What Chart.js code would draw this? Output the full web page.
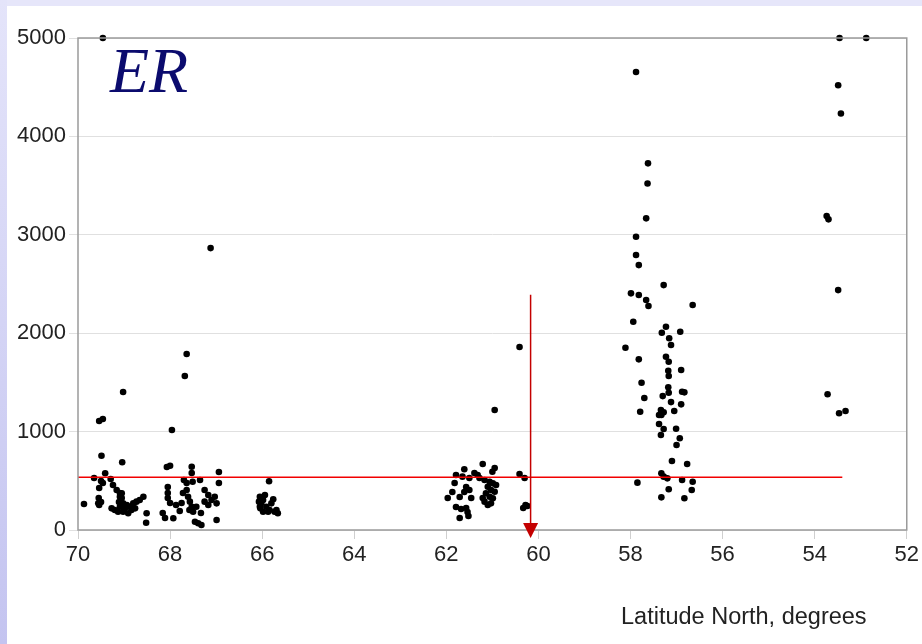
<!DOCTYPE html>
<html>
<head>
<meta charset="utf-8">
<script src="https://cdn.jsdelivr.net/npm/chart.js@4.4.0/dist/chart.umd.min.js"></script>
<style>
  html, body { margin: 0; padding: 0; }
  body { width: 922px; height: 644px; position: relative; overflow: hidden; background: #e6e6fa; }
  #edge { position: absolute; left: 0; top: 0; width: 7px; height: 644px; background: linear-gradient(#e4e4fa, #c4c4f0); }
  #panel { position: absolute; left: 7px; top: 6px; right: 0; bottom: 0; background: #fff; }
  #chart { position: absolute; left: 0; top: 0; }
  #tag { position: absolute; left: 110px; top: 34px; font: italic 64px "Liberation Serif", "Times New Roman", serif; color: #0b0b6e; }
  #xtitle { position: absolute; left: 621px; top: 603px; font: 23.5px "Liberation Sans", Arial, sans-serif; color: #222; white-space: nowrap; }
</style>
</head>
<body>
<div id="edge"></div>
<div id="panel"></div>
<canvas id="chart" width="922" height="644"></canvas>
<div id="tag">ER</div>
<div id="xtitle">Latitude North, degrees</div>
<script>
// ER by latitude, one pair of arrays per sampling band
const latA = [69.46, 69.54, 69.46, 69.02, 69.49, 69.04, 69.41, 69.65, 69.50, 69.46, 69.29, 69.24, 69.54, 69.55, 69.50, 69.54, 69.87,
  69.09, 69.05, 69.11, 69.02, 68.94, 68.87, 68.80, 68.73, 68.66, 68.58, 69.09, 69.05, 69.27, 69.20, 69.13, 69.02, 68.91, 68.98,
  69.09, 68.84, 68.76, 68.51, 68.52, 69.16, 69.56];
const erA = [5000, 1108, 1128, 1402, 755, 688, 576, 528, 498, 478, 518, 457, 427, 325, 284, 254, 264,
  376, 325, 284, 271, 254, 237, 271, 288, 305, 338, 338, 373, 220, 203, 186, 186, 170, 220,
  237, 203, 220, 170, 74, 406, 271];

const latB = [67.12, 67.64, 67.68, 67.96, 68.00, 68.07, 67.53, 66.94, 67.53, 67.70, 67.64, 67.51, 67.35, 66.94, 68.05, 68.05, 68.05,
  68.00, 67.87, 67.75, 68.16, 68.11, 67.64, 67.61, 67.57, 67.53, 67.58, 67.50, 67.43, 67.25, 67.17, 67.10, 67.17, 67.25,
  67.03, 66.99, 67.46, 67.32, 67.39, 66.99, 67.93, 67.79, 67.33, 67.72];
const erB = [2865, 1788, 1565, 1016, 653, 640, 643, 589, 579, 508, 478, 491, 508, 477, 437, 376, 325,
  274, 254, 274, 173, 122, 406, 338, 288, 237, 203, 186, 237, 406, 356, 305, 254, 288,
  338, 271, 84, 51, 68, 102, 119, 193, 173, 376];

const latC = [65.85, 66.05, 65.98, 66.02, 66.07, 65.94, 65.76, 65.80, 65.91, 65.84, 65.73, 65.66, 66.04, 65.98, 65.87, 65.69, 66.05];
const erC = [495, 338, 305, 271, 288, 356, 312, 271, 237, 203, 186, 170, 220, 186, 186, 203, 237];

const latD = [60.95, 60.41, 61.21, 61.61, 60.95, 61.00, 61.79, 61.65, 61.50, 61.39, 61.32, 61.28, 60.41, 60.30, 60.28, 60.24, 60.33,
  61.82, 61.87, 61.57, 61.61, 61.50, 61.97, 61.71, 61.46, 61.79, 61.68, 61.57, 61.54, 61.71, 61.52, 61.17, 61.06, 60.99,
  60.92, 61.10, 61.03, 60.95, 61.14, 61.06, 60.99, 61.17, 61.10, 61.03, 61.21];
const erD = [1219, 1859, 671, 617, 630, 592, 559, 542, 528, 579, 559, 528, 569, 528, 254, 244, 224,
  478, 386, 437, 386, 406, 325, 335, 325, 234, 213, 224, 183, 122, 142, 508, 491, 474,
  457, 440, 406, 389, 373, 338, 322, 288, 254, 271, 325];

const latE = [57.88, 57.62, 57.63, 57.66, 57.88, 57.88, 57.82, 57.28, 57.99, 57.82, 57.66, 57.61, 56.65, 57.94, 57.23, 57.32, 56.92,
  57.16, 57.12, 58.11, 57.82, 57.23, 57.17, 56.90, 57.18, 57.17, 57.76, 57.18, 57.17, 56.88, 56.83, 57.30, 57.70, 57.12,
  56.90, 57.79, 57.34, 57.28, 57.38, 57.33, 57.05, 57.38, 57.28, 57.01, 57.34, 56.93, 57.00, 57.10, 56.77, 57.33, 57.28,
  57.20, 57.85, 56.88, 56.65, 57.17, 56.67, 57.33, 56.83];
const erE = [4654, 3726, 3522, 3167, 2980, 2794, 2692, 2489, 2405, 2388, 2337, 2276, 2286, 2116, 2066, 2005, 2015,
  1948, 1880, 1852, 1734, 1761, 1710, 1626, 1619, 1565, 1497, 1450, 1395, 1405, 1399, 1361, 1341, 1300,
  1277, 1202, 1220, 1196, 1168, 1168, 1209, 1077, 1026, 1029, 965, 932, 864, 701, 671, 576, 542,
  525, 481, 508, 491, 414, 406, 332, 322];

const latF = [53.46, 52.88, 53.49, 53.43, 53.74, 53.70, 53.49, 53.72, 53.47, 53.33];
const erF = [5000, 5000, 4520, 4233, 3190, 3157, 2438, 1379, 1186, 1209];

// reference level and the marked latitude
const thresholdEr = 535;
const thresholdLats = [70, 53.4];
const markerLat = 60.17;
const markerTopEr = 2390;

const xTicks = [70, 68, 66, 64, 62, 60, 58, 56, 54, 52];
const yTicks = [0, 1000, 2000, 3000, 4000, 5000];

const bands = [[latA, erA], [latB, erB], [latC, erC], [latD, erD], [latE, erE], [latF, erF]];
const points = bands.flatMap(([la, er]) => la.map((x, i) => ({ x, y: er[i] })));

const tickFont = { family: "'Liberation Sans', Arial, sans-serif", size: 22 };

// frame round the plot area and arrowhead at the foot of the marker line
const framePlugin = {
  id: 'frame',
  afterDatasetsDraw(chart) {
    const { ctx, chartArea: a, scales } = chart;
    ctx.save();
    ctx.strokeStyle = '#9a9a9a';
    ctx.lineWidth = 1.5;
    ctx.strokeRect(a.left, a.top, a.right - a.left, a.bottom - a.top);
    const px = scales.x.getPixelForValue(markerLat);
    const py = scales.y.getPixelForValue(0);
    ctx.fillStyle = '#c40000';
    ctx.beginPath();
    ctx.moveTo(px - 7.5, py - 7);
    ctx.lineTo(px + 7.5, py - 7);
    ctx.lineTo(px, py + 8);
    ctx.closePath();
    ctx.fill();
    ctx.restore();
  },
};

new Chart(document.getElementById('chart'), {
  type: 'scatter',
  data: {
    datasets: [
      {
        data: points,
        pointRadius: 3.3,
        pointBackgroundColor: '#000',
        pointBorderWidth: 0,
        clip: false,
        order: 3,
      },
      {
        type: 'line',
        data: thresholdLats.map((x) => ({ x, y: thresholdEr })),
        borderColor: '#f20000',
        borderWidth: 1.5,
        pointRadius: 0,
        order: 2,
      },
      {
        type: 'line',
        data: [{ x: markerLat, y: markerTopEr }, { x: markerLat, y: 0 }],
        borderColor: '#c40000',
        borderWidth: 1.5,
        pointRadius: 0,
        order: 1,
      },
    ],
  },
  options: {
    responsive: false,
    animation: false,
    devicePixelRatio: 1,
    layout: { padding: { top: 38, right: 14, left: 0, bottom: 0 } },
    plugins: { legend: { display: false }, tooltip: { enabled: false } },
    scales: {
      x: {
        type: 'linear',
        reverse: true,
        min: 52,
        max: 70,
        afterBuildTicks: (s) => { s.ticks = xTicks.map((value) => ({ value })); },
        afterFit: (s) => { s.height = 114; },
        grid: { drawOnChartArea: false, color: '#cfcfcf', tickLength: 9 },
        border: { display: false },
        ticks: { color: '#222', font: tickFont, padding: 3, maxRotation: 0, callback: (v) => String(v) },
      },
      y: {
        min: 0,
        max: 5000,
        afterBuildTicks: (s) => { s.ticks = yTicks.map((value) => ({ value })); },
        afterFit: (s) => { s.width = 78; },
        grid: { color: '#e0e0e0', tickLength: 9 },
        border: { display: false },
        ticks: { color: '#222', font: tickFont, padding: 3, callback: (v) => String(v) },
      },
    },
  },
  plugins: [framePlugin],
});
</script>
</body>
</html>
